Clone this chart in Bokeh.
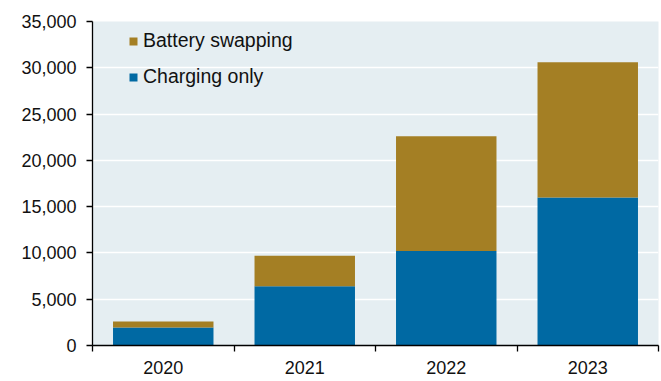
from bokeh.plotting import figure
from bokeh.models import (ColumnDataSource, FixedTicker, NumeralTickFormatter,
                          Legend, LegendItem, Range1d)
from bokeh.embed import file_html
from bokeh.resources import INLINE

years = ["2020", "2021", "2022", "2023"]
charging_only = [1950, 6400, 10200, 16000]
battery_swapping = [650, 3300, 12400, 14600]
y_ticks = [0, 5000, 10000, 15000, 20000, 25000, 30000, 35000]

BLUE = "#0069a3"
GOLD = "#a47f24"
BG = "#e5eef2"
FONT = "Liberation Sans"

xpos = [i + 0.5 for i in range(len(years))]
src = ColumnDataSource(dict(x=xpos, charging=charging_only, swapping=battery_swapping))

p = figure(width=660, height=380, output_backend="svg", toolbar_location=None,
           x_range=Range1d(0, len(years)), y_range=Range1d(0, 35000),
           min_border_left=92, min_border_right=2, min_border_top=21, min_border_bottom=35)
p.background_fill_color = BG
p.border_fill_color = "white"
p.outline_line_color = None

r = p.vbar_stack(["charging", "swapping"], x="x", width=0.71, source=src,
                 color=[BLUE, GOLD], line_color=None)

legend = Legend(items=[LegendItem(label="Battery swapping", renderers=[r[1]]),
                       LegendItem(label="Charging only", renderers=[r[0]])],
                location=(36, 257))
legend.background_fill_alpha = 0
legend.border_line_color = None
legend.glyph_width = 10
legend.glyph_height = 10
legend.label_text_font = FONT
legend.label_text_font_size = "19.5px"
legend.label_text_color = "#111111"
legend.label_height = 20
legend.spacing = 13
legend.padding = 10
legend.margin = 0
legend.label_standoff = 5
p.add_layout(legend, "center")

# x axis
p.xaxis.ticker = FixedTicker(ticks=xpos, minor_ticks=list(range(len(years) + 1)))
p.xaxis.major_label_overrides = {x: y for x, y in zip(xpos, years)}
p.xaxis.major_tick_out = 0
p.xaxis.major_tick_in = 0
p.xaxis.minor_tick_out = 6
p.xaxis.minor_tick_in = 0
p.xaxis.minor_tick_line_color = "black"
p.xaxis.minor_tick_line_width = 1.3
p.xaxis.major_label_standoff = 9
p.xgrid.grid_line_color = None

# y axis
p.yaxis.ticker = FixedTicker(ticks=y_ticks)
p.yaxis.formatter = NumeralTickFormatter(format="0,0")
p.yaxis.major_tick_out = 6
p.yaxis.major_tick_in = 0
p.yaxis.minor_tick_out = 0
p.yaxis.minor_tick_in = 0
p.yaxis.major_label_standoff = 10
p.ygrid.grid_line_color = "white"
p.ygrid.grid_line_width = 1.5

for ax in (p.xaxis, p.yaxis):
    ax.axis_line_color = "black"
    ax.axis_line_width = 1.3
    ax.major_tick_line_color = "black"
    ax.major_tick_line_width = 1.3
    ax.major_label_text_font = FONT
    ax.major_label_text_font_size = "18px"
    ax.major_label_text_color = "#111111"

open("out.html", "w").write(file_html(p, INLINE))
